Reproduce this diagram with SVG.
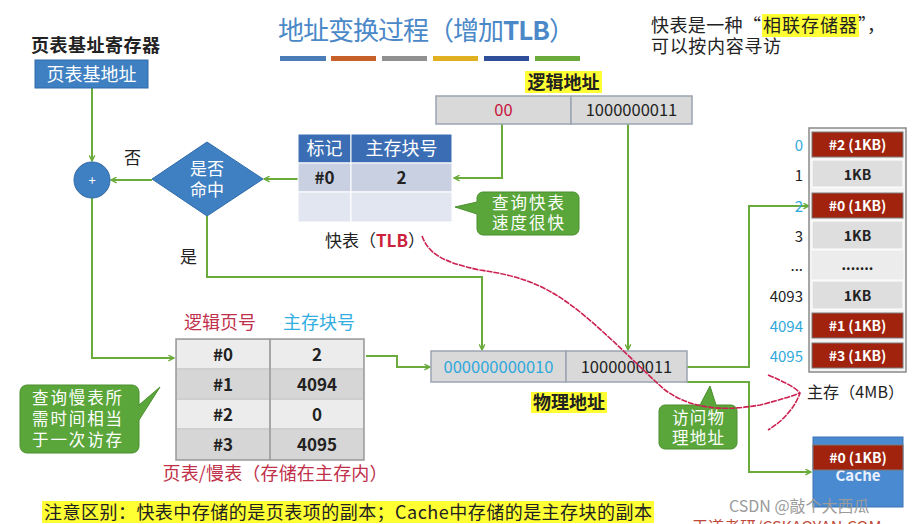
<svg xmlns="http://www.w3.org/2000/svg" width="916" height="524" viewBox="0 0 916 524">
<defs>
<style>
text{font-family:"Noto Sans CJK SC","Liberation Sans",sans-serif;}
.ln{fill:none;stroke:#6aab3c;stroke-width:2;}
.cell{stroke:#9aa4b0;stroke-width:1.5;}
.gray{fill:#d9d9d9;}
.red{fill:#a1230d;stroke:#7a7a7a;stroke-width:1;}
.mem{fill:#dedede;stroke:#ffffff;stroke-width:1;}
.t15{font-size:17px;fill:#222;text-anchor:middle;}
.w{fill:#fff;}
.mt{font-size:14px;font-weight:bold;fill:#222;text-anchor:middle;}
.mw{font-size:14px;font-weight:bold;fill:#fff;text-anchor:middle;}
.lbl{font-size:15px;text-anchor:end;fill:#222;}
.cy{fill:#2fa8dc;}
.call{fill:#5aa63a;stroke:#4a8f2e;stroke-width:1;}
.ct{font-size:16.5px;fill:#fff;}
.hl{fill:#ffff33;}
.rd{fill:none;stroke:#cc2050;stroke-width:1.6;}
</style>
<marker id="ah" viewBox="0 0 10 10" refX="9" refY="5" markerWidth="7" markerHeight="7" orient="auto" markerUnits="userSpaceOnUse">
<path d="M1,1 L9,5 L1,9" fill="none" stroke="#6aab3c" stroke-width="2"/>
</marker>
</defs>
<rect width="916" height="524" fill="#ffffff"/>

<g id="title">
<text x="278" y="40" textLength="297" style="font-size:26px;fill:#4a88c8;">地址变换过程（增加<tspan font-weight="bold">TLB</tspan>）</text>
<rect x="280" y="56" width="46" height="5" fill="#4a7db8"/>
<rect x="331" y="56" width="45" height="5" fill="#c8602a"/>
<rect x="382" y="56" width="45" height="5" fill="#909090"/>
<rect x="433" y="56" width="45" height="5" fill="#e0b020"/>
<rect x="484" y="56" width="45" height="5" fill="#2f4f9a"/>
<rect x="535" y="56" width="45" height="5" fill="#6aab3c"/>
</g>

<g id="note-top">
<rect class="hl" x="762" y="14" width="97" height="23"/>
<text x="651" y="32" textLength="110" style="font-size:18px;fill:#222;">快表是一种“</text>
<text x="763" y="32" textLength="94" style="font-size:18px;fill:#222;">相联存储器</text>
<text x="858" y="32" style="font-size:18px;fill:#222;">”，</text>
<text x="651" y="53" textLength="130" style="font-size:18px;fill:#222;">可以按内容寻访</text>
</g>

<g id="connectors">
<line class="ln" x1="92" y1="88" x2="92" y2="161" marker-end="url(#ah)"/>
<line class="ln" x1="152" y1="180" x2="111" y2="180" marker-end="url(#ah)"/>
<line class="ln" x1="298" y1="179" x2="264" y2="179" marker-end="url(#ah)"/>
<polyline class="ln" points="502,124 502,178 454,178" marker-end="url(#ah)"/>
<polyline class="ln" points="207,216 207,277 482,277 482,350" marker-end="url(#ah)"/>
<line class="ln" x1="628" y1="124" x2="628" y2="350" marker-end="url(#ah)"/>
<polyline class="ln" points="92,198 92,358 174,358" marker-end="url(#ah)"/>
<polyline class="ln" points="366,356 397,356 397,367 430,367" marker-end="url(#ah)"/>
<polyline class="ln" points="687,367 749,367 749,206 809,206" marker-end="url(#ah)"/>
<polyline class="ln" points="687,382 749,382 749,472 811,472" marker-end="url(#ah)"/>
</g>

<g id="pt-base-reg">
<text x="31" y="52" textLength="129" style="font-size:18px;font-weight:bold;fill:#222;">页表基址寄存器</text>
<rect x="35" y="60" width="113" height="28" fill="#3f80c2" stroke="#2e6aa8"/>
<text x="91.5" y="81" style="font-size:18px;fill:#fff;text-anchor:middle;">页表基地址</text>
</g>

<g id="adder">
<circle cx="92" cy="180" r="18" fill="#3f80c2" stroke="#2e6aa8"/>
<text x="92" y="185" style="font-size:13px;fill:#fff;text-anchor:middle;">+</text>
<text x="124" y="164" style="font-size:17px;fill:#222;">否</text>
</g>

<g id="decision">
<polygon points="152,179 207,142 263,179 207,216" fill="#3f80c2" stroke="#2e6aa8"/>
<text x="207" y="175" style="font-size:17px;fill:#fff;text-anchor:middle;">是否</text>
<text x="207" y="196" style="font-size:17px;fill:#fff;text-anchor:middle;">命中</text>
<text x="180" y="263" style="font-size:17px;fill:#222;">是</text>
</g>

<g id="tlb">
<rect x="298" y="134" width="53" height="29" fill="#3a6db4" stroke="#fff"/>
<rect x="351" y="134" width="101" height="29" fill="#3a6db4" stroke="#fff"/>
<rect x="298" y="163" width="53" height="29" fill="#c8d0e2" stroke="#fff"/>
<rect x="351" y="163" width="101" height="29" fill="#c8d0e2" stroke="#fff"/>
<rect x="298" y="192" width="53" height="30" fill="#e2e6f0" stroke="#fff"/>
<rect x="351" y="192" width="101" height="30" fill="#e2e6f0" stroke="#fff"/>
<text x="324.5" y="155" class="t15 w" style="font-size:18px">标记</text>
<text x="401.5" y="155" class="t15 w" style="font-size:18px">主存块号</text>
<text x="324.5" y="184" class="t15" font-weight="bold">#0</text>
<text x="401.5" y="184" class="t15" font-weight="bold">2</text>
<text x="375" y="247" style="font-size:17px;fill:#222;text-anchor:middle;">快表（<tspan fill="#cc1f3c" font-weight="bold">TLB</tspan>）</text>
</g>

<g id="tlb-callout">
<path class="call" d="M483,192 H573 a6,6 0 0 1 6,6 V229 a6,6 0 0 1 -6,6 H483 a6,6 0 0 1 -6,-6 V214 L455,207 L477,202 V198 a6,6 0 0 1 6,-6 Z"/>
<text x="528" y="209" class="ct" text-anchor="middle" textLength="72">查询快表</text>
<text x="528" y="229" class="ct" text-anchor="middle" textLength="72">速度很快</text>
</g>

<g id="logical-addr">
<rect class="hl" x="525" y="71" width="77" height="22"/>
<text x="563.5" y="89" style="font-size:18px;font-weight:bold;fill:#222;text-anchor:middle;">逻辑地址</text>
<rect x="436" y="96" width="135" height="28" class="gray cell"/>
<rect x="571" y="96" width="121" height="28" class="gray cell"/>
<text x="503.5" y="116" style="font-size:16.5px;fill:#c8143c;text-anchor:middle;">00</text>
<text x="631.5" y="116" style="font-size:16.5px;fill:#222;text-anchor:middle;">1000000011</text>
</g>

<g id="page-table">
<text x="220" y="329" style="font-size:18px;fill:#c0304a;text-anchor:middle;">逻辑页号</text>
<text x="319" y="329" style="font-size:18px;fill:#33aee0;text-anchor:middle;">主存块号</text>
<rect x="176" y="339" width="188" height="121" fill="#cfcfcf" stroke="#9a9a9a" stroke-width="1.5"/>
<rect x="177" y="340" width="92" height="28" fill="#ececec"/>
<rect x="271" y="340" width="92" height="28" fill="#ececec"/>
<rect x="177" y="370" width="92" height="28" fill="#d6d6d6"/>
<rect x="271" y="370" width="92" height="28" fill="#d6d6d6"/>
<rect x="177" y="400" width="92" height="28" fill="#ececec"/>
<rect x="271" y="400" width="92" height="28" fill="#ececec"/>
<rect x="177" y="430" width="92" height="29" fill="#d6d6d6"/>
<rect x="271" y="430" width="92" height="29" fill="#d6d6d6"/>
<line x1="270" y1="339" x2="270" y2="460" stroke="#8a8a8a" stroke-width="1.2"/>
<text x="223" y="361" class="t15" font-weight="bold">#0</text>
<text x="317" y="361" class="t15" font-weight="bold">2</text>
<text x="223" y="391" class="t15" font-weight="bold">#1</text>
<text x="317" y="391" class="t15" font-weight="bold">4094</text>
<text x="223" y="421" class="t15" font-weight="bold">#2</text>
<text x="317" y="421" class="t15" font-weight="bold">0</text>
<text x="223" y="451" class="t15" font-weight="bold">#3</text>
<text x="317" y="451" class="t15" font-weight="bold">4095</text>
<text x="275" y="480" textLength="225" style="font-size:18px;fill:#c0304a;text-anchor:middle;">页表/慢表（存储在主存内）</text>
</g>

<g id="pt-callout">
<path class="call" d="M27,385 H132 a7,7 0 0 1 7,7 V405 L160,387 L139,420 V446 a7,7 0 0 1 -7,7 H27 a7,7 0 0 1 -7,-7 V392 a7,7 0 0 1 7,-7 Z"/>
<text x="77" y="404" class="ct" text-anchor="middle" textLength="90">查询慢表所</text>
<text x="77" y="425" class="ct" text-anchor="middle" textLength="90">需时间相当</text>
<text x="77" y="446" class="ct" text-anchor="middle" textLength="90">于一次访存</text>
</g>

<g id="physical-addr">
<rect x="431" y="351" width="135" height="31" class="gray cell"/>
<rect x="566" y="351" width="121" height="31" class="gray cell"/>
<text x="498.5" y="373" style="font-size:16.5px;fill:#2fa8dc;text-anchor:middle;">000000000010</text>
<text x="626.5" y="373" style="font-size:16.5px;fill:#222;text-anchor:middle;">1000000011</text>
<rect class="hl" x="531" y="392" width="76" height="21"/>
<text x="569" y="409" style="font-size:18px;font-weight:bold;fill:#222;text-anchor:middle;">物理地址</text>
</g>

<g id="pa-callout">
<path class="call" d="M665,405 H700 L710,386 L716,405 H731 a6,6 0 0 1 6,6 V443 a6,6 0 0 1 -6,6 H665 a6,6 0 0 1 -6,-6 V411 a6,6 0 0 1 6,-6 Z"/>
<text x="698" y="424" class="ct" text-anchor="middle" textLength="52">访问物</text>
<text x="698" y="444" class="ct" text-anchor="middle" textLength="52">理地址</text>
</g>

<g id="main-memory">
<rect x="809" y="128" width="97" height="244" fill="#f4f4f4" stroke="#8a8a8a" stroke-width="1.5"/>
<rect class="red" x="812" y="132" width="91" height="25"/>
<rect class="mem" x="812" y="160" width="91" height="27"/>
<rect class="red" x="812" y="193" width="91" height="25"/>
<rect class="mem" x="812" y="221" width="91" height="28"/>
<rect x="812" y="251" width="91" height="28" fill="#ececec"/>
<rect class="mem" x="812" y="281" width="91" height="28"/>
<rect class="red" x="812" y="313" width="91" height="25"/>
<rect class="red" x="812" y="343" width="91" height="25"/>
<text x="857.5" y="150" class="mw">#2 (1KB)</text>
<text x="857.5" y="180" class="mt">1KB</text>
<text x="857.5" y="211" class="mw">#0 (1KB)</text>
<text x="857.5" y="241" class="mt">1KB</text>
<text x="857.5" y="270" class="mt">.......</text>
<text x="857.5" y="301" class="mt">1KB</text>
<text x="857.5" y="331" class="mw">#1 (1KB)</text>
<text x="857.5" y="361" class="mw">#3 (1KB)</text>
<text x="803" y="151" class="lbl cy">0</text>
<text x="803" y="181" class="lbl">1</text>
<text x="803" y="212" class="lbl cy">2</text>
<text x="803" y="242" class="lbl">3</text>
<text x="803" y="271" class="lbl">...</text>
<text x="803" y="302" class="lbl">4093</text>
<text x="803" y="332" class="lbl cy">4094</text>
<text x="803" y="362" class="lbl cy">4095</text>
<text x="807" y="398" textLength="97" style="font-size:16px;fill:#222;">主存（4MB）</text>
</g>

<g id="cache">
<rect x="813" y="437" width="90" height="70" fill="#4a8ad0" stroke="#3a74b4"/>
<text x="858" y="481" style="font-size:15px;font-weight:bold;fill:#e8f0ff;text-anchor:middle;">Cache</text>
<rect class="red" x="813" y="445" width="90" height="25"/>
<text x="858" y="463" class="mw">#0 (1KB)</text>
</g>

<g id="red-annotation">
<path class="rd" stroke-dasharray="6,1" d="M422,236 C428,252 440,262 480,270 C520,276 545,284 580,312 C612,338 640,368 665,390 C690,408 720,412 760,405 C780,400 792,396 800,393"/>
<path class="rd" stroke-dasharray="6,1" d="M768,375 C785,382 796,388 800,393 C796,405 785,420 768,430"/>
</g>

<g id="bottom-note">
<rect class="hl" x="42" y="501" width="612" height="22"/>
<text x="44" y="519" textLength="608" style="font-size:18px;fill:#222;">注意区别：快表中存储的是页表项的副本；Cache中存储的是主存块的副本</text>
</g>

<g id="watermark">
<text x="729" y="512" style="font-size:16px;fill:#9a9a9a;">CSDN @敲个大西瓜</text>
<text x="692" y="533" style="font-size:16px;fill:#c04a3a;">王道考研/CSKAOYAN.COM</text>
</g>
</svg>
